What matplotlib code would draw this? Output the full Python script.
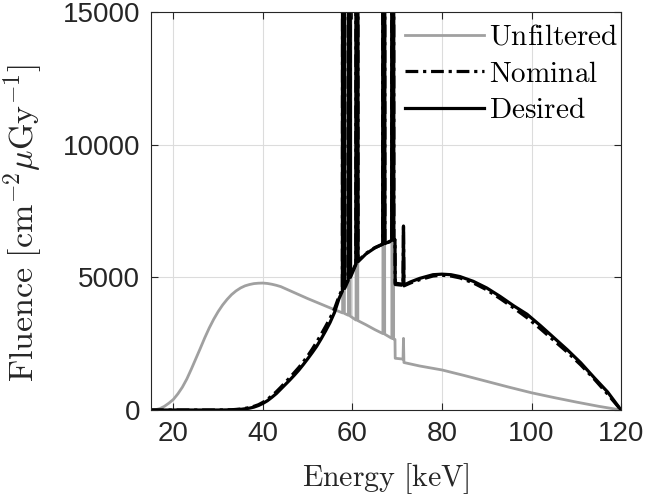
import matplotlib
matplotlib.use('Agg')
import matplotlib.pyplot as plt

# Unfiltered spectrum (keV, fluence); 100000 = characteristic line off the top
e_unf = [15, 16, 17, 18, 19, 20, 21, 22, 23, 24, 25, 26, 27, 28, 29, 30, 31, 32, 33, 34,
         35, 36, 37, 38, 39, 40, 41, 42, 43, 44, 46, 48, 50, 52, 54, 56, 57.8, 58.0, 58.2,
         59.1, 59.3, 59.5, 60.8, 61.0, 61.2, 63, 65, 66.8, 67.0, 67.2, 68.8, 69.0, 69.2,
         69.5, 69.55, 71.3, 71.4, 71.5, 75, 80, 85, 90, 95, 100, 105, 110, 115, 120]
f_unf = [0, 12, 55, 140, 260, 400, 610, 860, 1170, 1540, 1930, 2320, 2720, 3090, 3420,
         3710, 3960, 4170, 4350, 4490, 4600, 4680, 4730, 4765, 4780, 4785, 4770, 4740,
         4700, 4650, 4500, 4350, 4200, 4060, 3920, 3780, 3660, 100000, 3640, 3570, 100000,
         3540, 3390, 100000, 3370, 3215, 3030, 2880, 100000, 2860, 2700, 100000, 2680, 2660,
         1950, 1920, 2700, 1790, 1660, 1510, 1300, 1080, 860, 650, 470, 300, 140, 0]

# Nominal filtered spectrum
e_nom = [15, 30, 33, 35, 37, 38, 39, 40, 41, 42, 43, 44, 45, 46, 47, 48, 49, 50, 51, 52,
         53, 54, 55, 56, 57, 57.75, 58.0, 58.25, 59.05, 59.3, 59.55, 60.75, 61.0, 61.25, 63,
         65, 66.75, 67.0, 67.25, 68.75, 69.0, 69.25, 69.5, 69.55, 71.3, 71.4, 71.5, 73, 75,
         78, 80, 82, 84, 87, 90, 93, 96, 99, 102, 105, 108, 111, 114, 117, 120]
f_nom = [0, 0, 10, 35, 90, 140, 200, 290, 400, 540, 690, 860, 1040, 1220, 1410, 1600,
         1810, 2040, 2290, 2560, 2850, 3150, 3460, 3820, 4290, 4560, 100000, 4660, 4960,
         100000, 5080, 5500, 100000, 5620, 5900, 6120, 6250, 100000, 6270, 6370, 100000,
         6390, 6400, 4730, 4700, 6900, 4680, 4790, 4910, 5050, 5080, 5050, 4980, 4790, 4530,
         4200, 3850, 3480, 3060, 2620, 2180, 1700, 1170, 600, 0]

# Desired filtered spectrum
e_des = [15, 30, 33, 35, 37, 38, 39, 40, 41, 42, 43, 44, 45, 46, 47, 48, 49, 50, 51, 52,
         53, 54, 55, 56, 57, 57.75, 58.0, 58.25, 59.05, 59.3, 59.55, 60.75, 61.0, 61.25, 63,
         65, 66.75, 67.0, 67.25, 68.75, 69.0, 69.25, 69.5, 69.55, 71.3, 71.4, 71.5, 73, 75,
         78, 80, 82, 84, 87, 90, 93, 96, 99, 102, 105, 108, 111, 114, 117, 120]
f_des = [0, 0, 5, 25, 70, 110, 170, 250, 350, 480, 620, 790, 960, 1130, 1310, 1500, 1710,
         1930, 2160, 2400, 2680, 2980, 3300, 3680, 4200, 4480, 100000, 4580, 4880, 100000,
         5000, 5480, 100000, 5590, 5880, 6110, 6250, 100000, 6270, 6390, 100000, 6410, 6420,
         4780, 4740, 6935, 4710, 4830, 4960, 5100, 5120, 5100, 5030, 4850, 4600, 4280, 3930,
         3610, 3180, 2725, 2270, 1780, 1220, 680, 0]

x_ticks = [20, 40, 60, 80, 100, 120]
y_ticks = [0, 5000, 10000, 15000]

plt.rcParams['mathtext.fontset'] = 'cm'
plt.rcParams['font.family'] = ['Liberation Sans', 'DejaVu Sans']

fig = plt.figure(figsize=(6.49, 5.01), dpi=100)
ax = fig.add_axes([0.2327, 0.1816, 0.7242, 0.7944])

ax.plot(e_unf, f_unf, color='#a0a0a0', lw=2.0, label=r'$\mathrm{Unfiltered}$')
ax.plot(e_nom, f_nom, color='black', lw=2.3, dashes=(4, 1.5, 1, 1.5),
        label=r'$\mathrm{Nominal}$')
ax.plot(e_des, f_des, color='black', lw=2.3, label=r'$\mathrm{Desired}$')

ax.set_xlim(15, 120)
ax.set_ylim(0, 15000)
ax.set_xticks(x_ticks)
ax.set_yticks(y_ticks)
ax.tick_params(direction='in', top=True, right=True, length=5, width=0.8,
               labelsize=20, colors='#262626', pad=8)
for s in ax.spines.values():
    s.set_color('#262626')
    s.set_linewidth(0.8)
ax.grid(True, color='#dcdcdc', lw=0.8)
ax.set_axisbelow(True)

ax.set_xlabel(r'$\mathrm{Energy\ [keV]}$', fontsize=21.5, color='#262626', labelpad=10)
ax.set_ylabel(r'$\mathrm{Fluence\ [cm^{-2}}\mu\mathrm{Gy^{-1}]}$', fontsize=24.5,
              color='#262626')
ax.yaxis.set_label_coords(-0.225, 0.47)

ax.legend(loc='upper left', bbox_to_anchor=(0.54, 0.973), frameon=False,
          fontsize=21, handlelength=2.7, handletextpad=0.2, labelspacing=0.3,
          borderpad=0, borderaxespad=0)

fig.savefig('out.png', dpi=100)
plt.close()
